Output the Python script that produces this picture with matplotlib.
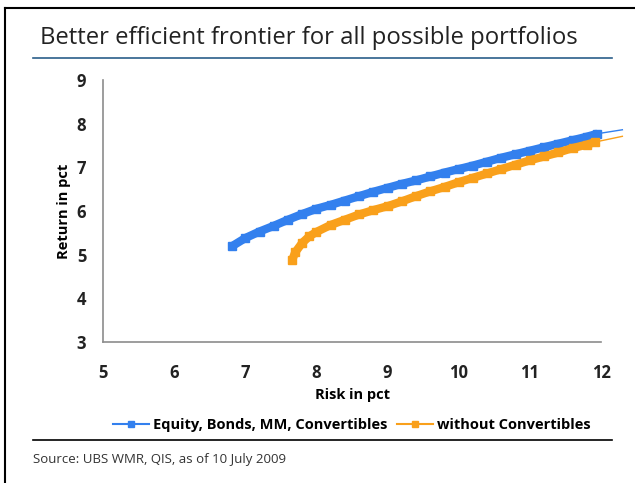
import matplotlib.pyplot as plt
from matplotlib.lines import Line2D

# efficient frontier (risk, return in pct)
risk_all = [6.82, 7.0, 7.2, 7.4, 7.6, 7.8, 8.0, 8.2, 8.4, 8.6, 8.8, 9.0, 9.2, 9.4,
            9.6, 9.8, 10.0, 10.2, 10.4, 10.6, 10.8, 11.0, 11.2, 11.4, 11.6, 11.8, 11.95]
ret_all = [5.20, 5.38, 5.53, 5.66, 5.80, 5.93, 6.05, 6.14, 6.24, 6.34, 6.44, 6.53, 6.62, 6.70,
           6.79, 6.88, 6.96, 7.04, 7.13, 7.22, 7.30, 7.38, 7.46, 7.54, 7.62, 7.70, 7.77]
risk_noconv = [7.66, 7.70, 7.80, 7.90, 8.0, 8.2, 8.4, 8.6, 8.8, 9.0, 9.2, 9.4, 9.6,
               9.8, 10.0, 10.2, 10.4, 10.6, 10.8, 11.0, 11.2, 11.4, 11.6, 11.8, 11.92]
ret_noconv = [4.88, 5.05, 5.27, 5.42, 5.52, 5.68, 5.80, 5.92, 6.02, 6.11, 6.22, 6.34, 6.45,
              6.55, 6.66, 6.76, 6.86, 6.96, 7.06, 7.16, 7.25, 7.34, 7.44, 7.52, 7.58]
# thin tails running past the right edge of the axis
tail_all = ([11.95, 12.3], [7.77, 7.86])
tail_noconv = ([11.92, 12.3], [7.58, 7.71])

labels = ["Equity, Bonds, MM, Convertibles", "without Convertibles"]
blue = "#3380EE"
orange = "#F9A01B"

plt.rcParams["font.family"] = ["Open Sans", "DejaVu Sans"]

fig = plt.figure(figsize=(6.35, 4.83), dpi=100)
ax = fig.add_axes([0.1622, 0.2919, 0.7843, 0.5425])

ax.plot(tail_all[0], tail_all[1], color=blue, lw=1, clip_on=False)
ax.plot(tail_noconv[0], tail_noconv[1], color=orange, lw=1, clip_on=False)
ax.plot(risk_all, ret_all, color=blue, lw=6, marker="s", ms=6,
        solid_capstyle="butt", clip_on=False)
ax.plot(risk_noconv, ret_noconv, color=orange, lw=6, marker="s", ms=6,
        solid_capstyle="butt", clip_on=False)

ax.set_xlim(5, 12)
ax.set_ylim(3, 9)
ax.set_xticks(range(5, 13))
ax.set_yticks(range(3, 10))
for s in ["top", "right"]:
    ax.spines[s].set_visible(False)
for s in ["left", "bottom"]:
    ax.spines[s].set_color("#8c8c8c")
    ax.spines[s].set_linewidth(1.2)
ax.tick_params(length=0, labelsize=12, colors="#222222", pad=16)
ax.tick_params(axis="y", pad=12)
for lab in ax.get_xticklabels() + ax.get_yticklabels():
    lab.set_fontweight("bold")
ax.set_xlabel("Risk in pct", fontsize=10.5, fontweight="bold", labelpad=4)
ax.set_ylabel("Return in pct", fontsize=10.5, fontweight="bold", labelpad=4)

handles = [Line2D([], [], color=blue, marker="s", ms=5, lw=1.5),
           Line2D([], [], color=orange, marker="s", ms=5, lw=1.5)]
fig.legend(handles, labels, loc="center", bbox_to_anchor=(0.554, 0.12), ncol=2,
           frameon=False, prop={"size": 10.5, "weight": "bold"}, handlelength=2.5,
           handletextpad=0.3, columnspacing=0.6)

# title, rules and source
fig.text(40 / 635, 1 - 38 / 483, "Better efficient frontier for all possible portfolios",
         fontsize=17.2, color="#222222", va="center", ha="left")
fig.add_artist(Line2D([33 / 635, 612 / 635], [1 - 58 / 483] * 2, color="#2B5F8A", lw=1.2))
fig.add_artist(Line2D([33 / 635, 612 / 635], [1 - 440 / 483] * 2, color="black", lw=1.2))
fig.text(33 / 635, 1 - 459 / 483, "Source: UBS WMR, QIS, as of 10 July 2009",
         fontsize=9.5, color="#333333", va="center", ha="left")

# outer frame of the clipping
fig.add_artist(Line2D([5 / 635, 5 / 635], [0, 1 - 8 / 483], color="black", lw=1.5))
fig.add_artist(Line2D([5 / 635, 1], [1 - 8 / 483] * 2, color="black", lw=1.5))

fig.savefig("out.png", dpi=100)
